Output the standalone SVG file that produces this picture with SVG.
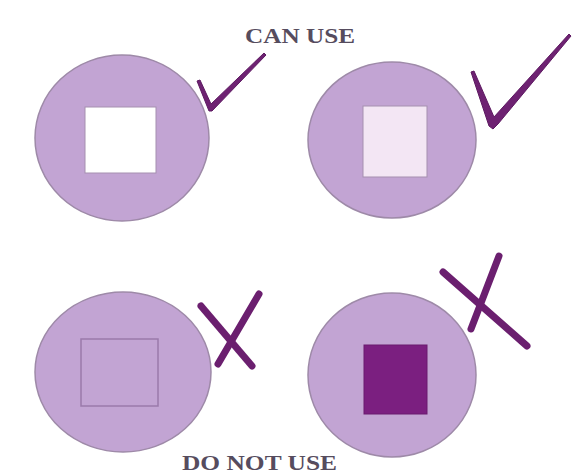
<svg xmlns="http://www.w3.org/2000/svg" width="583" height="476" viewBox="0 0 583 476">
<style>
.disc{fill:#c2a4d3;stroke:#9e8aa8;stroke-width:1.5}
.lbl{font-family:"Liberation Serif",serif;font-weight:bold;font-size:21px;fill:#564c5e}
.mark{fill:#6e2272;stroke:#5e1a62;stroke-width:1;stroke-linejoin:round}
.cross{stroke:#6b1f6f;stroke-width:7;stroke-linecap:round;fill:none}
</style>
<rect width="583" height="476" fill="#ffffff"/>
<text class="lbl" x="245" y="43" textLength="110" lengthAdjust="spacingAndGlyphs">CAN USE</text>
<text class="lbl" x="182" y="470" font-size="18" textLength="155" lengthAdjust="spacingAndGlyphs">DO NOT USE</text>
<g id="node1">
<ellipse class="disc" cx="122" cy="138" rx="87" ry="83"/>
<rect x="85" y="107" width="71" height="66" fill="#ffffff" stroke="#a58fb0" stroke-width="1"/>
<path class="mark" d="M197 81 L200 80 L211 104 L264 53 L266 55 L212 111 L209 111 Z"/>
</g>
<g id="node2">
<ellipse class="disc" cx="392" cy="140" rx="84" ry="78"/>
<rect x="363" y="106" width="64" height="71" fill="#f3e6f4" stroke="#a58fb0" stroke-width="1"/>
<path class="mark" d="M471 72 L474 71 L494 117 L569 34 L571 36 L498 124 L493 129 L489 126 Z"/>
</g>
<g id="node3">
<ellipse class="disc" cx="123" cy="372" rx="88" ry="80"/>
<rect x="81" y="339" width="77" height="67" fill="none" stroke="#9a7aab" stroke-width="1.5"/>
<line class="cross" x1="201" y1="306" x2="252" y2="366"/>
<line class="cross" x1="259" y1="294" x2="218" y2="364"/>
</g>
<g id="node4">
<ellipse class="disc" cx="392" cy="375" rx="84" ry="82"/>
<rect x="364" y="345" width="63" height="69" fill="#7b1f80" stroke="#6a1a6e" stroke-width="1"/>
<line class="cross" x1="443" y1="272" x2="527" y2="346"/>
<line class="cross" x1="499" y1="256" x2="471" y2="329"/>
</g>
<g id="connectors"></g>
</svg>
